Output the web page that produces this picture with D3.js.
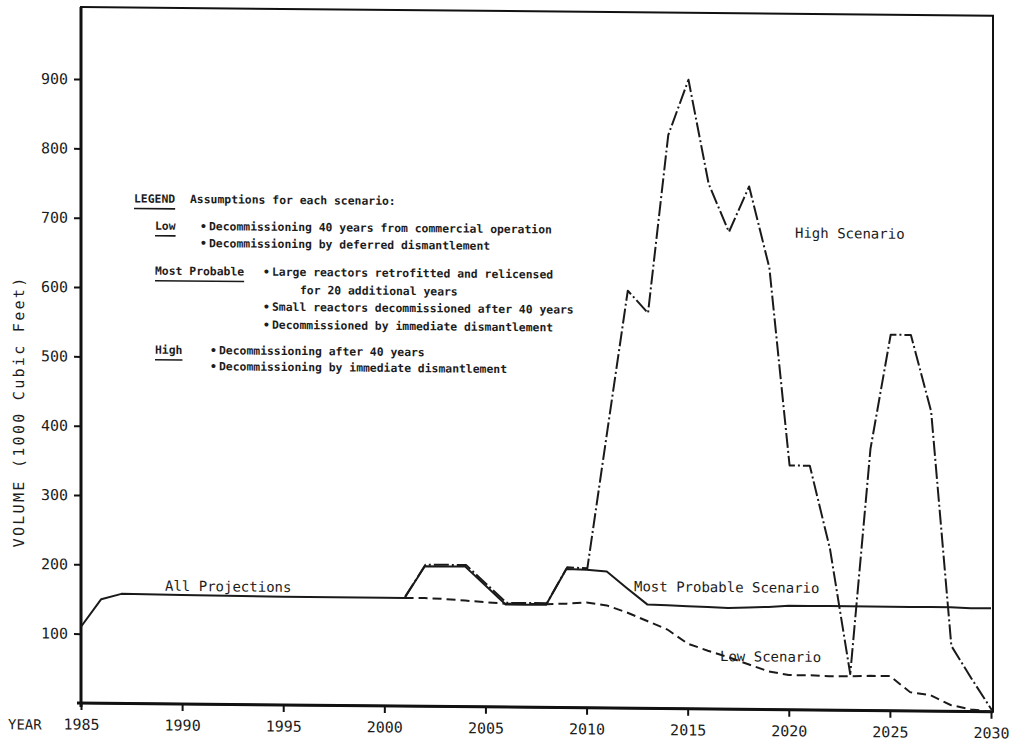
<!DOCTYPE html>
<html>
<head>
<meta charset="utf-8">
<script src="https://cdn.jsdelivr.net/npm/d3@7"></script>
<style>
  body { margin: 0; background: #fff; }
  svg { display: block; }
  text { fill: #1c1c1c; }
</style>
</head>
<body>
<svg id="chart" width="1018" height="741"></svg>
<script>
// ---- Data: decommissioning waste volume (1000 cubic feet) by year ----
const xTicks = [1985, 1990, 1995, 2000, 2005, 2010, 2015, 2020, 2025, 2030];
const yTicks = [100, 200, 300, 400, 500, 600, 700, 800, 900];

// "All Projections" through 2001, then the Most Probable Scenario
const probableYears  = [1985, 1986, 1987, 1990, 1995, 2000, 2001, 2002, 2003, 2004, 2005, 2006, 2007, 2008,
                        2009, 2010, 2011, 2012, 2013, 2014, 2015, 2016, 2017, 2018, 2019, 2020, 2021, 2022,
                        2023, 2024, 2025, 2026, 2027, 2028, 2029, 2030];
const probableValues = [110, 150, 158, 157, 156, 156, 156, 202, 202, 202, 175, 148, 148, 148,
                        200, 199, 197, 173, 150, 149, 148, 147, 146, 147, 148, 150, 150, 150,
                        150, 150, 150, 150, 150, 150, 149, 149];

// Low Scenario
const lowYears  = [2001, 2002, 2003, 2004, 2005, 2006, 2007, 2008, 2009, 2010, 2011, 2012, 2013, 2014, 2015,
                   2016, 2017, 2018, 2019, 2020, 2021, 2022, 2023, 2024, 2025, 2026, 2027, 2028, 2029, 2030];
const lowValues = [156, 156, 155, 153, 151, 149, 149, 149, 150, 152, 148, 138, 126, 114, 94,
                   84, 75, 65, 55, 50, 50, 49, 49, 50, 50, 27, 23, 9, 3, 0];

// High Scenario
const highYears  = [2001, 2002, 2003, 2004, 2005, 2006, 2007, 2008, 2009, 2010, 2011, 2012, 2013, 2014, 2015,
                    2016, 2017, 2018, 2019, 2020, 2021, 2022, 2023, 2024, 2025, 2026, 2027, 2028, 2029, 2030];
const highValues = [156, 202, 202, 202, 175, 148, 148, 148, 200, 199, 400, 600, 568, 825, 905,
                    755, 686, 752, 635, 350, 350, 230, 50, 375, 540, 540, 430, 92, 45, 0];

// Legend wording
const legendHeading = "LEGEND";
const legendTitle = "Assumptions for each scenario:";
const legendNames = ["Low", "Most Probable", "High"];
const legendNotes = [
  ["Decommissioning 40 years from commercial operation",
   "Decommissioning by deferred dismantlement"],
  ["Large reactors retrofitted and relicensed",
   "for 20 additional years",
   "Small reactors decommissioned after 40 years",
   "Decommissioned by immediate dismantlement"],
  ["Decommissioning after 40 years",
   "Decommissioning by immediate dismantlement"]
];

// ---- Layout ----
const W = 1018, H = 741;
const plotLeft = 81, plotRight = 991, plotTop = 7, plotBottom = 703;
const skew = 0.0095;            // the printed page sits slightly askew
const monoFont = "'DejaVu Sans Mono', 'Liberation Mono', monospace";

const svg = d3.select("#chart");
svg.append("rect").attr("width", W).attr("height", H).attr("fill", "#fff");

const g = svg.append("g")
  .attr("transform", `matrix(1, ${skew}, 0, 1, 0, ${-skew * plotLeft})`);

const x = d3.scaleLinear().domain([1985, 2030]).range([plotLeft, plotRight]);
const y = d3.scaleLinear().domain([0, 1004]).range([plotBottom, plotTop]);

// Axes
const yAxis = g.append("g").attr("transform", `translate(${plotLeft},0)`)
  .call(d3.axisLeft(y).tickValues(yTicks).tickSize(7).tickPadding(6));
const xAxis = g.append("g").attr("transform", `translate(0,${plotBottom})`)
  .call(d3.axisBottom(x).tickValues(xTicks).tickFormat(d3.format("d")).tickSize(7).tickPadding(9));
[yAxis, xAxis].forEach(a => {
  a.select(".domain").remove();
  a.selectAll(".tick line").attr("stroke", "#111").attr("stroke-width", 2);
  a.selectAll(".tick text").attr("font-family", monoFont).attr("font-size", 15).attr("fill", "#1c1c1c");
});

// Frame
g.append("path")
  .attr("d", `M${plotLeft},${plotBottom}H${plotRight + 2}V${plotTop}H${plotLeft}Z`)
  .attr("fill", "none").attr("stroke", "#111").attr("stroke-width", 2);
g.append("line").attr("x1", plotLeft - 4).attr("x2", plotRight + 2).attr("y1", plotBottom).attr("y2", plotBottom)
  .attr("stroke", "#111").attr("stroke-width", 3);
g.append("line").attr("x1", plotLeft).attr("x2", plotLeft).attr("y1", plotTop).attr("y2", plotBottom + 4)
  .attr("stroke", "#111").attr("stroke-width", 3);

g.append("text").attr("x", 8).attr("y", plotBottom + 27)
  .attr("font-family", monoFont).attr("font-size", 14).text("YEAR");

g.append("text")
  .attr("transform", `translate(24,412) rotate(-90)`)
  .attr("text-anchor", "middle")
  .attr("font-family", monoFont).attr("font-size", 15).attr("letter-spacing", 2.3)
  .text("VOLUME (1000 Cubic Feet)");

// Series
const line = d3.line().x(d => x(d[0])).y(d => y(d[1]));
const zip = (a, b) => a.map((v, i) => [v, b[i]]);

g.append("path").datum(zip(highYears, highValues)).attr("d", line)
  .attr("transform", "translate(0.8,-1.6)")
  .attr("fill", "none").attr("stroke", "#1a1a1a").attr("stroke-width", 2)
  .attr("stroke-dasharray", "15,3,2,3").attr("stroke-linejoin", "round");
g.append("path").datum(zip(lowYears, lowValues)).attr("d", line)
  .attr("fill", "none").attr("stroke", "#1a1a1a").attr("stroke-width", 2)
  .attr("stroke-dasharray", "9,5");
g.append("path").datum(zip(probableYears, probableValues)).attr("d", line)
  .attr("fill", "none").attr("stroke", "#1a1a1a").attr("stroke-width", 2)
  .attr("stroke-linejoin", "round");

// Series labels
const labelFont = 14;
[["All Projections", 165, 590],
 ["Most Probable Scenario", 634, 586],
 ["Low Scenario", 720, 655],
 ["High Scenario", 795, 231]].forEach(([t, lx, ly]) => {
  g.append("text").attr("x", lx).attr("y", ly)
    .attr("font-family", monoFont).attr("font-size", labelFont).text(t);
});

// Legend block
const lg = g.append("g").attr("font-family", monoFont).attr("font-size", 11.4).attr("font-weight", "bold");
function underlined(txt, lx, ly) {
  const t = lg.append("text").attr("x", lx).attr("y", ly).text(txt);
  const w = t.node().getComputedTextLength();
  lg.append("line").attr("x1", lx).attr("x2", lx + w).attr("y1", ly + 6).attr("y2", ly + 6)
    .attr("stroke", "#1a1a1a").attr("stroke-width", 1.6);
}
underlined(legendHeading, 134, 202);
lg.append("text").attr("x", 190).attr("y", 202).text(legendTitle);

const nameX = 155;
const bulletX = [200, 263, 210];
const rowY = [[229, 246], [274, 292, 309, 327], [353, 369]];
legendNames.forEach((name, i) => {
  underlined(name, nameX, rowY[i][0]);
  legendNotes[i].forEach((note, j) => {
    const continuation = /^for /.test(note);
    if (!continuation) {
      lg.append("text").attr("x", bulletX[i]).attr("y", rowY[i][j]).text("\u2022");
    }
    lg.append("text")
      .attr("x", continuation ? bulletX[i] + 37 : bulletX[i] + 9)
      .attr("y", rowY[i][j]).text(note);
  });
});
</script>
</body>
</html>
